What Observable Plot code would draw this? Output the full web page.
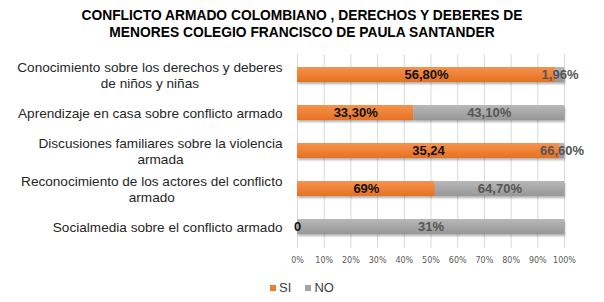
<!DOCTYPE html>
<html>
<head>
<meta charset="utf-8">
<script src="https://cdn.jsdelivr.net/npm/d3@7"></script>
<script src="https://cdn.jsdelivr.net/npm/@observablehq/plot@0.6"></script>
<style>
  html, body { margin: 0; padding: 0; background: #fff; }
  #root { position: relative; width: 604px; height: 302px; overflow: hidden; font-family: "Liberation Sans", Arial, sans-serif; }
  #title { position: absolute; left: 0; top: 7px; width: 604px; text-align: center; font-weight: bold; font-size: 13.8px; line-height: 17px; color: #000; }
  #chart { position: absolute; left: 0; top: 41px; }
  #legend { position: absolute; left: 0; top: 280px; width: 604px; display: flex; justify-content: center; align-items: center; font-size: 13px; color: #404040; }
  #legend .sw { display: inline-block; width: 6px; height: 6px; margin-right: 3px; }
  #legend .item { display: inline-flex; align-items: center; margin: 0 7px; }
  svg g[aria-label="bar"] { filter: drop-shadow(1px 2px 1.2px rgba(0,0,0,0.3)); }
</style>
</head>
<body>
<div id="root">
  <div id="title"></div>
  <div id="chart"></div>
  <div id="legend"></div>
</div>
<script>
const titleLines = [
  "CONFLICTO ARMADO COLOMBIANO , DERECHOS Y DEBERES DE",
  "MENORES COLEGIO FRANCISCO DE PAULA SANTANDER"
];
const categories = [
  "Conocimiento sobre los derechos y deberes de niños y niñas",
  "Aprendizaje en casa sobre conflicto armado",
  "Discusiones familiares sobre la violencia armada",
  "Reconocimiento de los actores del conflicto armado",
  "Socialmedia sobre el conflicto armado"
];
const categoryLines = [
  "Conocimiento sobre los derechos y deberes\nde niños y niñas",
  "Aprendizaje en casa sobre conflicto armado",
  "Discusiones familiares sobre la violencia\narmada",
  "Reconocimiento de los actores del conflicto\narmado",
  "Socialmedia sobre el conflicto armado"
];
const seriesNames = ["SI", "NO"];
const seriesColors = ["#ED7D31", "#A5A5A5"];
const siValues = [0.568, 0.333, 35.24, 0.69, 0];
const noValues = [0.0196, 0.431, 0.666, 0.647, 0.31];
const siLabels = ["56,80%", "33,30%", "35,24", "69%", "0"];
const noLabels = ["1,96%", "43,10%", "66,60%", "64,70%", "31%"];
const xTicks = [0, 0.1, 0.2, 0.3, 0.4, 0.5, 0.6, 0.7, 0.8, 0.9, 1];

document.getElementById("title").innerHTML = titleLines.join("<br>");

const table = [];
categories.forEach((c, i) => {
  table.push({cat: c, series: "SI", value: siValues[i], label: siLabels[i]});
  table.push({cat: c, series: "NO", value: noValues[i], label: noLabels[i]});
});

const catFont = 13.6;
const ctx = document.createElement("canvas").getContext("2d");
ctx.font = catFont + "px 'Liberation Sans'";
const labelWidth = s => Math.max(...s.split("\n").map(l => ctx.measureText(l).width));

const labelMarks = categories.map((c, i) =>
  Plot.text([c], {
    x: () => 0, y: d => d, text: () => categoryLines[i],
    textAnchor: "middle", lineHeight: 1.18,
    dx: -(15 + labelWidth(categoryLines[i]) / 2),
    fontSize: catFont, fontFamily: "Liberation Sans", fill: "#262626"
  })
);

const stackOpts = {x: "value", y: "cat", offset: "normalize"};

const svg = Plot.plot({
  width: 604,
  height: 232,
  marginTop: 13,
  marginBottom: 25,
  marginLeft: 297,
  marginRight: 40,
  style: {fontFamily: "Liberation Sans", overflow: "visible"},
  x: {domain: [0, 1], ticks: xTicks, axis: null, label: null},
  y: {domain: categories, paddingInner: 0.6, paddingOuter: 0.3, axis: null},
  color: {domain: seriesNames, range: ["url(#gradSI)", "url(#gradNO)"]},
  marks: [
    Plot.gridX(xTicks, {stroke: "#d9d9d9", strokeOpacity: 1, strokeWidth: 1}),
    Plot.axisX(xTicks, {tickSize: 0, tickPadding: 9, label: null, tickFormat: d => Math.round(d * 100) + "%",
      fontSize: 8, fontFamily: "DejaVu Sans", fill: "#595959", anchor: "bottom"}),
    Plot.barX(table, Plot.stackX({...stackOpts, fill: "series"})),
    Plot.text(table, Plot.stackX({...stackOpts, text: d => d.series === "SI" ? d.label : "",
      fill: "#111", fontWeight: "bold", fontSize: 13, fontFamily: "Liberation Sans"})),
    Plot.text(table, Plot.stackX({...stackOpts, text: d => d.series === "NO" ? d.label : "",
      fill: "#555", fontWeight: "bold", fontSize: 13, fontFamily: "Liberation Sans"})),
    ...labelMarks
  ]
});

const defs = d3.select(svg).insert("defs", ":first-child");
const grads = [["gradSI", "#F4934F", "#E8711F"], ["gradNO", "#B8B8B8", "#979797"]];
grads.forEach(([id, a, b]) => {
  const g = defs.append("linearGradient").attr("id", id).attr("x1", 0).attr("y1", 0).attr("x2", 0).attr("y2", 1);
  g.append("stop").attr("offset", "0%").attr("stop-color", a);
  g.append("stop").attr("offset", "100%").attr("stop-color", b);
});
document.getElementById("chart").appendChild(svg);

const legend = document.getElementById("legend");
seriesNames.forEach((s, i) => {
  const item = document.createElement("span");
  item.className = "item";
  item.innerHTML = `<span class="sw" style="background:${seriesColors[i]}"></span>${s}`;
  legend.appendChild(item);
});
</script>
</body>
</html>
